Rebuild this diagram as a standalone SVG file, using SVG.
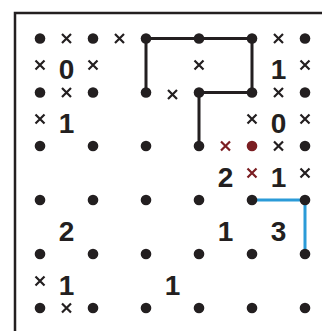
<svg xmlns="http://www.w3.org/2000/svg" width="322" height="331" viewBox="0 0 322 331">
<defs>
<style>
.dot{fill:#231f20}
.red{fill:#7b1e22}
.x{stroke:#231f20;stroke-width:2.2;fill:none}
.xr{stroke:#7b1e22;stroke-width:2.2;fill:none}
.num{font-family:"Liberation Sans",Arial,sans-serif;font-weight:bold;font-size:28px;fill:#231f20;text-anchor:middle}
</style>
<path id="cr" d="M-4.5,-4.5L4.5,4.5M4.5,-4.5L-4.5,4.5"/>
</defs>
<rect width="322" height="331" fill="#fff"/>
<g id="frame" stroke="#231f20" stroke-width="2.5" fill="none">
<path d="M15,331V13H322"/>
</g>
<g id="connectors" fill="none" stroke-width="3">
<path d="M146,92.5V38.5H252V92.5H199V146" stroke="#231f20"/>
<path d="M252,200H305V254" stroke="#2b9bd8"/>
</g>
<g id="dots">
<g class="dot">
<circle cx="40" cy="38.5" r="5.3"/><circle cx="93" cy="38.5" r="5.3"/><circle cx="146" cy="38.5" r="5.3"/><circle cx="199" cy="38.5" r="5.3"/><circle cx="252" cy="38.5" r="5.3"/><circle cx="305" cy="38.5" r="5.3"/>
<circle cx="40" cy="92.5" r="5.3"/><circle cx="93" cy="92.5" r="5.3"/><circle cx="146" cy="92.5" r="5.3"/><circle cx="199" cy="92.5" r="5.3"/><circle cx="252" cy="92.5" r="5.3"/><circle cx="305" cy="92.5" r="5.3"/>
<circle cx="40" cy="146" r="5.3"/><circle cx="93" cy="146" r="5.3"/><circle cx="146" cy="146" r="5.3"/><circle cx="199" cy="146" r="5.3"/><circle cx="305" cy="146" r="5.3"/>
<circle cx="40" cy="200" r="5.3"/><circle cx="93" cy="200" r="5.3"/><circle cx="146" cy="200" r="5.3"/><circle cx="199" cy="200" r="5.3"/><circle cx="252" cy="200" r="5.3"/><circle cx="305" cy="200" r="5.3"/>
<circle cx="40" cy="254" r="5.3"/><circle cx="93" cy="254" r="5.3"/><circle cx="146" cy="254" r="5.3"/><circle cx="199" cy="254" r="5.3"/><circle cx="252" cy="254" r="5.3"/><circle cx="305" cy="254" r="5.3"/>
<circle cx="40" cy="308" r="5.3"/><circle cx="93" cy="308" r="5.3"/><circle cx="146" cy="308" r="5.3"/><circle cx="199" cy="308" r="5.3"/><circle cx="252" cy="308" r="5.3"/><circle cx="305" cy="308" r="5.3"/>
</g>
<circle class="red" cx="252" cy="146" r="5.3"/>
</g>
<g id="crosses">
<g class="x">
<use href="#cr" x="66.5" y="38.5"/><use href="#cr" x="119.5" y="38.5"/><use href="#cr" x="278.5" y="38.5"/>
<use href="#cr" x="40" y="65"/><use href="#cr" x="93" y="65"/><use href="#cr" x="199" y="65"/><use href="#cr" x="305" y="65"/>
<use href="#cr" x="66.5" y="92.5"/><use href="#cr" x="172.5" y="94.5"/><use href="#cr" x="278.5" y="92.5"/>
<use href="#cr" x="40" y="119"/><use href="#cr" x="252" y="119"/><use href="#cr" x="305" y="119"/>
<use href="#cr" x="278.5" y="146"/>
<use href="#cr" x="305" y="173"/>
<use href="#cr" x="40" y="281"/>
<use href="#cr" x="66.5" y="308"/>
</g>
<g class="xr">
<use href="#cr" x="225.5" y="146"/><use href="#cr" x="252" y="173"/>
</g>
</g>
<g id="numbers" class="num">
<text x="66.5" y="78.5">0</text>
<text x="278.5" y="78.5">1</text>
<text x="66.5" y="132.5">1</text>
<text x="278.5" y="132.5">0</text>
<text x="225.5" y="186.5">2</text>
<text x="278.5" y="186.5">1</text>
<text x="66.5" y="240.5">2</text>
<text x="225.5" y="240.5">1</text>
<text x="278.5" y="240.5">3</text>
<text x="66.5" y="294.5">1</text>
<text x="172.5" y="294.5">1</text>
</g>
</svg>
